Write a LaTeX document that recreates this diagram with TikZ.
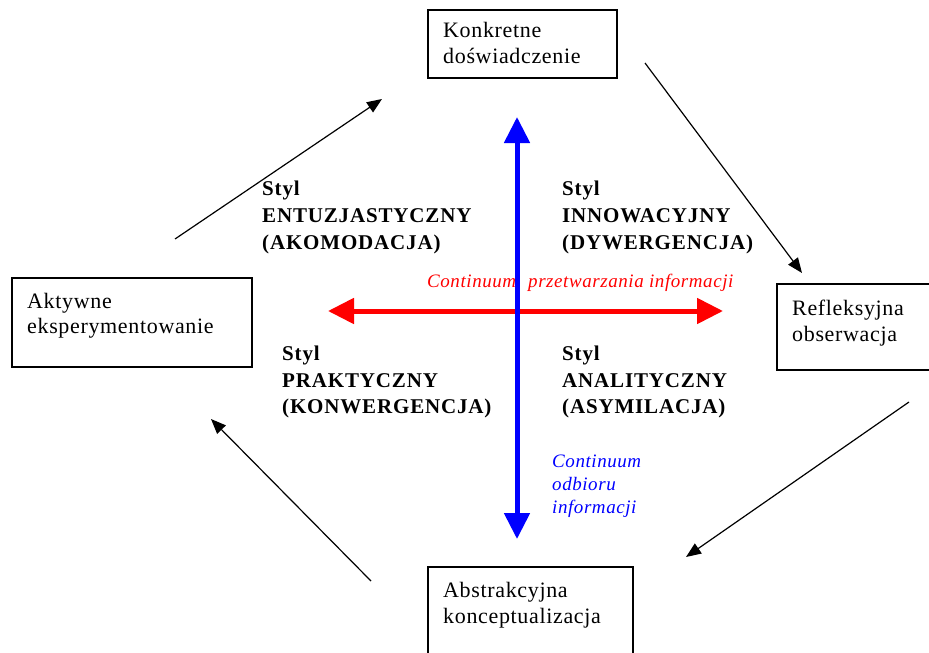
\documentclass[tikz,border=0pt]{standalone}
\usepackage{fontspec}
\setmainfont{Liberation Serif}
\usetikzlibrary{arrows.meta}
\begin{document}
\begin{tikzpicture}[x=1pt,y=-1pt,
  box/.style={draw=black,line width=1.2pt,inner sep=0pt},
  boxtxt/.style={anchor=base west,inner sep=0pt,font=\fontsize{22}{26}\selectfont\addfontfeatures{LetterSpace=3}},
  styltxt/.style={anchor=base west,inner sep=0pt,font=\fontsize{21}{26}\selectfont\bfseries\addfontfeatures{LetterSpace=4}},
  thin/.style={line width=1.2pt,-{Triangle[length=15pt,width=12pt]}},
  thick/.style={line width=5pt,{Triangle[length=26pt,width=25pt]}-{Triangle[length=26pt,width=25pt]}},
  itl/.style={anchor=base west,inner sep=0pt,font=\fontsize{19}{23}\selectfont\itshape\addfontfeatures{LetterSpace=3}}]
\useasboundingbox (0,0) rectangle (929,653);
% boxes
\node[box,minimum width=189pt,minimum height=68pt] (K) at (522.5,44) {};
\node[boxtxt] (K1) at (443,37) {Konkretne};
\node[boxtxt] (K2) at (443,63) {doświadczenie};
\node[box,minimum width=240pt,minimum height=89pt] (A) at (132,322.5) {};
\node[boxtxt] (A1) at (27,308) {Aktywne};
\node[boxtxt] (A2) at (27,333) {eksperymentowanie};
\node[box,minimum width=158pt,minimum height=86pt] (R) at (856,327) {};
\node[boxtxt] (R1) at (792,315) {Refleksyjna};
\node[boxtxt] (R2) at (792,341) {obserwacja};
\node[box,minimum width=205pt,minimum height=96pt] (B) at (530.5,615) {};
\node[boxtxt] (B1) at (443,597) {Abstrakcyjna};
\node[boxtxt] (B2) at (443,623) {konceptualizacja};
% cycle arrows
\coordinate (c1s) at (175,239);
\coordinate (c1e) at (382,99);
\coordinate (c2s) at (645,63);
\coordinate (c2e) at (802,273);
\coordinate (c3s) at (909,402);
\coordinate (c3e) at (686,557);
\coordinate (c4s) at (371,581);
\coordinate (c4e) at (211,419);
\draw[thin] (c1s) -- (c1e);
\draw[thin] (c2s) -- (c2e);
\draw[thin] (c3s) -- (c3e);
\draw[thin] (c4s) -- (c4e);
% axes
\coordinate (hl) at (328,311);
\coordinate (hr) at (723,311);
\coordinate (vt) at (517,117);
\coordinate (vb) at (517,539);
\draw[thick,red] (hl) -- (hr);
\draw[thick,blue] (vt) -- (vb);
% axis labels
\node[itl,text=red] (hlab) at (427,287) {Continuum\hspace{12pt}przetwarzania informacji};
\node[itl,text=blue] (v1) at (552,467) {Continuum};
\node[itl,text=blue] (v2) at (552,490) {odbioru};
\node[itl,text=blue] (v3) at (552,513) {informacji};
% style labels
\node[styltxt] (s1a) at (262,195) {Styl};
\node[styltxt] (s1b) at (262,222) {ENTUZJASTYCZNY};
\node[styltxt] (s1c) at (262,249) {(AKOMODACJA)};
\node[styltxt] (s2a) at (562,195) {Styl};
\node[styltxt] (s2b) at (562,222) {INNOWACYJNY};
\node[styltxt] (s2c) at (562,249) {(DYWERGENCJA)};
\node[styltxt] (s3a) at (282,360) {Styl};
\node[styltxt] (s3b) at (282,387) {PRAKTYCZNY};
\node[styltxt] (s3c) at (282,413) {(KONWERGENCJA)};
\node[styltxt] (s4a) at (562,360) {Styl};
\node[styltxt] (s4b) at (562,387) {ANALITYCZNY};
\node[styltxt] (s4c) at (562,413) {(ASYMILACJA)};
\end{tikzpicture}
\end{document}
